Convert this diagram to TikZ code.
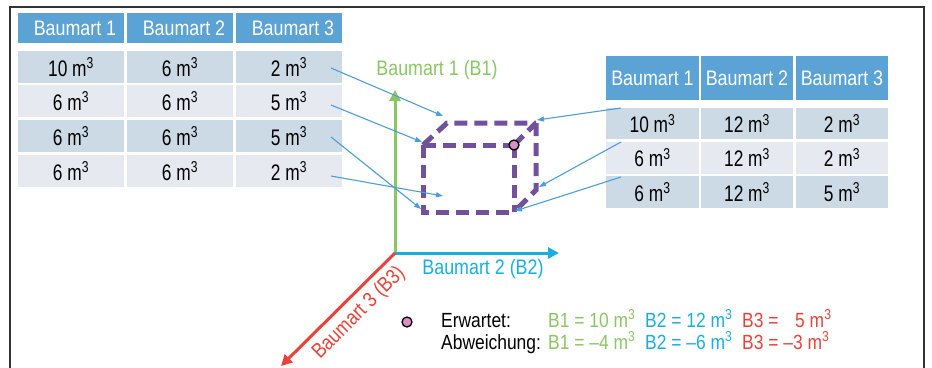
\documentclass[tikz,border=0pt]{standalone}
\usepackage{fontspec}
\setmainfont{Liberation Sans}[FakeStretch=0.85]
\newfontfamily\datafont{Liberation Sans}[FakeStretch=0.77]
\usetikzlibrary{arrows.meta}
\definecolor{hdrblue}{HTML}{5BA3D5}
\definecolor{rowdark}{HTML}{CCDAE5}
\definecolor{rowlight}{HTML}{E6E9F0}
\definecolor{axgreen}{HTML}{8CC664}
\definecolor{axblue}{HTML}{1AAEE0}
\definecolor{axred}{HTML}{E8433A}
\definecolor{cubepurple}{HTML}{71519C}
\definecolor{arrblue}{HTML}{4C9ED9}
\definecolor{dotpink}{HTML}{D98FC2}
\definecolor{framegray}{HTML}{333333}
\newcommand{\mcube}{m\textsuperscript{3}}
\begin{document}
\begin{tikzpicture}[x=1pt,y=-1pt,
  hdr/.style={fill=hdrblue,text=white,inner sep=0pt,font=\fontsize{21}{23}\selectfont},
  cell/.style={inner sep=0pt,text=black,font=\datafont\fontsize{22.5}{24}\selectfont},
  dk/.style={cell,fill=rowdark},
  lt/.style={cell,fill=rowlight},
  lw/.style={minimum width=106pt},
  rw/.style={minimum width=92.5pt},
  conn/.style={arrblue,line width=1.1pt,-{Triangle[length=7pt,width=5pt]}},
  axis/.style={line width=3pt,-{Triangle[length=11pt,width=11pt]}},
  cubeline/.style={cubepurple,line width=5pt,dash pattern=on 13pt off 7pt},
  lbl/.style={inner sep=0pt,font=\fontsize{21}{23}\selectfont},
  leg/.style={inner sep=0pt,anchor=base west,font=\fontsize{20.5}{22}\selectfont}]
\useasboundingbox (0,0) rectangle (932,367);
% frame
\draw[framegray,line width=1.5pt] (10,375) -- (10,7) -- (924,7) -- (924,375);

% left table
\node[hdr,lw,minimum height=30pt] (LH1) at (71,28) {\hspace{8pt}Baumart 1};
\node[hdr,lw,minimum height=30pt] (LH2) at (180,28) {\hspace{8pt}Baumart 2};
\node[hdr,lw,minimum height=30pt] (LH3) at (289,28) {\hspace{8pt}Baumart 3};
\node[dk,lw,minimum height=32pt] (L11) at (71,67) {10 \mcube};
\node[dk,lw,minimum height=32pt] (L12) at (180,67) {6 \mcube};
\node[dk,lw,minimum height=32pt] (L13) at (289,67) {2 \mcube};
\node[lt,lw,minimum height=32pt] (L21) at (71,101) {6 \mcube};
\node[lt,lw,minimum height=32pt] (L22) at (180,101) {6 \mcube};
\node[lt,lw,minimum height=32pt] (L23) at (289,101) {5 \mcube};
\node[dk,lw,minimum height=32pt] (L31) at (71,136) {6 \mcube};
\node[dk,lw,minimum height=32pt] (L32) at (180,136) {6 \mcube};
\node[dk,lw,minimum height=32pt] (L33) at (289,136) {5 \mcube};
\node[lt,lw,minimum height=32pt] (L41) at (71,171) {6 \mcube};
\node[lt,lw,minimum height=32pt] (L42) at (180,171) {6 \mcube};
\node[lt,lw,minimum height=32pt] (L43) at (289,171) {2 \mcube};

% right table
\node[hdr,rw,minimum height=44pt] (RH1) at (652.5,78) {Baumart 1};
\node[hdr,rw,minimum height=44pt] (RH2) at (747,78) {Baumart 2};
\node[hdr,rw,minimum height=44pt] (RH3) at (842,78) {Baumart 3};
\node[dk,rw,minimum height=31pt] (R11) at (652.5,123.5) {10 \mcube};
\node[dk,rw,minimum height=31pt] (R12) at (747,123.5) {12 \mcube};
\node[dk,rw,minimum height=31pt] (R13) at (842,123.5) {2 \mcube};
\node[lt,rw,minimum height=32pt] (R21) at (652.5,157.5) {6 \mcube};
\node[lt,rw,minimum height=32pt] (R22) at (747,157.5) {12 \mcube};
\node[lt,rw,minimum height=32pt] (R23) at (842,157.5) {2 \mcube};
\node[dk,rw,minimum height=32pt] (R31) at (652.5,192) {6 \mcube};
\node[dk,rw,minimum height=32pt] (R32) at (747,192) {12 \mcube};
\node[dk,rw,minimum height=32pt] (R33) at (842,192) {5 \mcube};

% axes
\coordinate (O) at (395,253);
\coordinate (Y) at (395,90);
\coordinate (X) at (559,253);
\coordinate (Z) at (281,366);
\draw[axis,axgreen] (O) -- (Y);
\draw[axis,axblue] (O) -- (X);
\draw[axis,axred] (O) -- (Z);
\node[lbl,text=axgreen] (LY) at (437,70) {Baumart 1 (B1)};
\node[lbl,text=axblue] (LX) at (483,269) {Baumart 2 (B2)};
\node[lbl,text=axred,rotate=45] (LZ) at (359,313) {Baumart 3 (B3)};

% cube
\coordinate (FTL) at (423,145);
\coordinate (FTR) at (514,145);
\coordinate (FBL) at (423,212);
\coordinate (FBR) at (514,212);
\coordinate (BTL) at (447,123);
\coordinate (BTR) at (536,123);
\coordinate (BBR) at (536,190);
\draw[cubeline] (FTL) -- (FTR);
\draw[cubeline] (FTL) -- (FBL) -- (FBR);
\draw[cubeline] (FTR) -- (FBR);
\draw[cubeline] (FTL) -- (BTL) -- (BTR);
\draw[cubeline] (FTR) -- (BTR);
\draw[cubeline] (BTR) -- (BBR) -- (FBR);
\node[circle,draw=black,line width=1.3pt,fill=dotpink,minimum size=10pt,inner sep=0pt] (P) at (FTR) {};

% connectors
\coordinate (s1) at (331,68);
\coordinate (s2) at (331,105);
\coordinate (s3) at (331,137);
\coordinate (s4) at (331,176);
\coordinate (t1) at (443,116);
\coordinate (t2) at (422,142);
\coordinate (t3) at (421,209);
\coordinate (t4) at (443,196);
\draw[conn] (s1) -- (t1);
\draw[conn] (s2) -- (t2);
\draw[conn] (s3) -- (t3);
\draw[conn] (s4) -- (t4);
\coordinate (r1) at (621,108);
\coordinate (r2) at (621,142);
\coordinate (r3) at (621,177);
\coordinate (u1) at (537,120);
\coordinate (u2) at (539,187);
\coordinate (u3) at (515,211);
\draw[conn] (r1) -- (u1);
\draw[conn] (r2) -- (u2);
\draw[conn] (r3) -- (u3);

% legend
\node[circle,draw=black,line width=1.3pt,fill=dotpink,minimum size=10pt,inner sep=0pt] (LP) at (407,322) {};
\node[leg] (E0) at (441,327) {Erwartet:};
\node[leg] (A0) at (441,349) {Abweichung:};
\node[leg,text=axgreen] (E1) at (548,327) {B1 = 10 \mcube};
\node[leg,text=axblue] (E2) at (645,327) {B2 = 12 \mcube};
\node[leg,text=axred] (E3) at (742,327) {B3 = \hspace{7pt} 5 \mcube};
\node[leg,text=axgreen] (A1) at (548,349) {B1 = --4 \mcube};
\node[leg,text=axblue] (A2) at (645,349) {B2 = --6 \mcube};
\node[leg,text=axred] (A3) at (742,349) {B3 = --3 \mcube};
\end{tikzpicture}
\end{document}
